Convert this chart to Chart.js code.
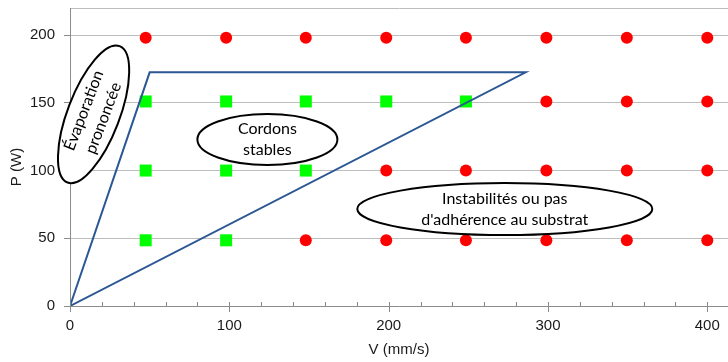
<!DOCTYPE html>
<html>
<head>
<meta charset="utf-8">
<script src="https://cdn.jsdelivr.net/npm/chart.js@4.4.1/dist/chart.umd.min.js"></script>
<style>
  html, body { margin: 0; padding: 0; background: #fff; overflow: hidden; }
  #wrap { width: 728px; height: 362px; position: relative; }
  canvas { display: block; }
</style>
</head>
<body>
<div id="wrap"><canvas id="chart"></canvas></div>
<script>
// --- Données ---
const speeds = [47.5, 98, 148, 198.5, 248.5, 299, 349.5, 400];   // V (mm/s)
const powers = [198, 151, 100, 48.5];                               // P (W)
const stableCounts = [0, 5, 3, 2];   // nb de vitesses "stables" (vert) pour chaque puissance
const envelopeV = [0, 50, 286, 0];
const envelopeP = [0, 172.5, 172.5, 0];
const xTickLabels = [0, 100, 200, 300, 400];
const yTickLabels = [0, 50, 100, 150, 200];

// Bulles de texte (position en coordonnées données, tailles en px)
const bubbles = [
    { lines: ['Évaporation', 'prononcée'], at: [14.8, 141.5], rx: 26, ry: 73, rot: 20.9, textRot: -69.1 },
    { lines: ['Cordons', 'stables'], at: [123.9, 122.9], rx: 70, ry: 25.5, rot: 0, textRot: 0 },
    { lines: ['Instabilités ou pas', "d'adhérence au substrat"], at: [272.9, 71.6], rx: 147.5, ry: 26, rot: 0, textRot: 0 }
];

const AXIS_GRAY = '#8c8c8c';
const GRID_GRAY = '#bdbdbd';
const TICK_FONT = { family: 'Liberation Sans', size: 15 };
const NOTE_FONT = '16px Lato';

// Séparer les points stables / instables
const stablePts = [];
const unstablePts = [];
powers.forEach((p, i) => {
    speeds.forEach((v, j) => {
        (j < stableCounts[i] ? stablePts : unstablePts).push({ x: v, y: p });
    });
});
const envelope = envelopeV.map((v, i) => ({ x: v, y: envelopeP[i] }));

// --- Plugin : ticks de l'axe X, titres d'axes, bulles ---
const decorPlugin = {
    id: 'decor',
    afterDraw(chart) {
        const { ctx, chartArea } = chart;
        const xs = chart.scales.x, ys = chart.scales.y;

        // ticks de l'axe X (mineurs tous les 20, majeurs tous les 100)
        ctx.save();
        ctx.strokeStyle = AXIS_GRAY;
        ctx.lineWidth = 1;
        xs.ticks.forEach(t => {
            if (t.value % 20 !== 0) return;
            const px = Math.round(xs.getPixelForValue(t.value)) + 0.5;
            const major = xTickLabels.includes(t.value);
            ctx.beginPath();
            ctx.moveTo(px, chartArea.bottom - 4);
            ctx.lineTo(px, chartArea.bottom + (major ? 6 : 0));
            ctx.stroke();
        });
        ctx.restore();

        // titres d'axes
        ctx.save();
        ctx.fillStyle = '#1a1a1a';
        ctx.font = '15px "Liberation Sans"';
        ctx.textAlign = 'center';
        ctx.textBaseline = 'middle';
        ctx.fillText('V (mm/s)', (chartArea.left + chartArea.right) / 2, 350);
        ctx.translate(17, 167);
        ctx.rotate(-Math.PI / 2);
        ctx.fillText('P (W)', 0, 0);
        ctx.restore();

        // bulles
        bubbles.forEach(b => {
            const cx = xs.getPixelForValue(b.at[0]);
            const cy = ys.getPixelForValue(b.at[1]);
            ctx.save();
            ctx.beginPath();
            ctx.ellipse(cx, cy, b.rx, b.ry, b.rot * Math.PI / 180, 0, Math.PI * 2);
            ctx.fillStyle = '#fff';
            ctx.fill();
            ctx.lineWidth = 2;
            ctx.strokeStyle = '#000';
            ctx.stroke();
            ctx.translate(cx, cy);
            ctx.rotate(b.textRot * Math.PI / 180);
            ctx.fillStyle = '#000';
            ctx.font = NOTE_FONT;
            ctx.textAlign = 'center';
            ctx.textBaseline = 'middle';
            const lh = 21;
            b.lines.forEach((line, k) => {
                ctx.fillText(line, 0, (k - (b.lines.length - 1) / 2) * lh);
            });
            ctx.restore();
        });
    }
};

const ctx = document.getElementById('chart').getContext('2d');
new Chart(ctx, {
    type: 'scatter',
    data: {
        datasets: [
            {
                label: 'Domaine',
                data: envelope,
                showLine: true,
                borderColor: '#2b5793',
                borderWidth: 2,
                pointRadius: 0,
                fill: false,
                tension: 0
            },
            {
                label: 'Instable',
                data: unstablePts,
                pointStyle: 'circle',
                pointRadius: 6,
                backgroundColor: '#ff0000',
                borderWidth: 0
            },
            {
                label: 'Stable',
                data: stablePts,
                pointStyle: 'rect',
                pointRadius: 8.5,
                backgroundColor: '#00ff00',
                borderWidth: 0
            }
        ]
    },
    options: {
        responsive: true,
        maintainAspectRatio: false,
        animation: false,
        layout: { autoPadding: false, padding: { top: 8, left: 0, right: 0, bottom: 0 } },
        plugins: {
            legend: { display: false },
            tooltip: { enabled: false }
        },
        scales: {
            x: {
                type: 'linear',
                min: 0,
                max: 413,
                afterFit: s => {
                    s.height = 56;
                    s.paddingLeft = 0;
                    s.paddingRight = 0;
                },
                afterBuildTicks: s => {
                    const ticks = [];
                    for (let v = 0; v <= 400; v += 20) ticks.push({ value: v });
                    ticks.push({ value: 413 });
                    s.ticks = ticks;
                },
                ticks: {
                    autoSkip: false,
                    maxRotation: 0,
                    padding: 11,
                    color: '#1a1a1a',
                    font: TICK_FONT,
                    callback: v => xTickLabels.includes(v) ? String(v) : ''
                },
                grid: { drawOnChartArea: false, drawTicks: false },
                border: { color: AXIS_GRAY, width: 1 }
            },
            y: {
                type: 'linear',
                min: 0,
                max: 220,
                afterFit: s => {
                    s.width = 70;
                    s.paddingTop = 0;
                    s.paddingBottom = 0;
                },
                afterBuildTicks: s => {
                    s.ticks = yTickLabels.concat([220]).map(v => ({ value: v }));
                },
                ticks: {
                    padding: 9,
                    color: '#1a1a1a',
                    font: TICK_FONT,
                    callback: v => yTickLabels.includes(v) ? String(v) : ''
                },
                grid: {
                    color: GRID_GRAY,
                    tickLength: 6,
                    tickColor: c => (c.tick && c.tick.value === 220) ? 'rgba(0,0,0,0)' : AXIS_GRAY
                },
                border: { color: AXIS_GRAY, width: 1 }
            }
        }
    },
    plugins: [decorPlugin]
});
</script>
</body>
</html>
